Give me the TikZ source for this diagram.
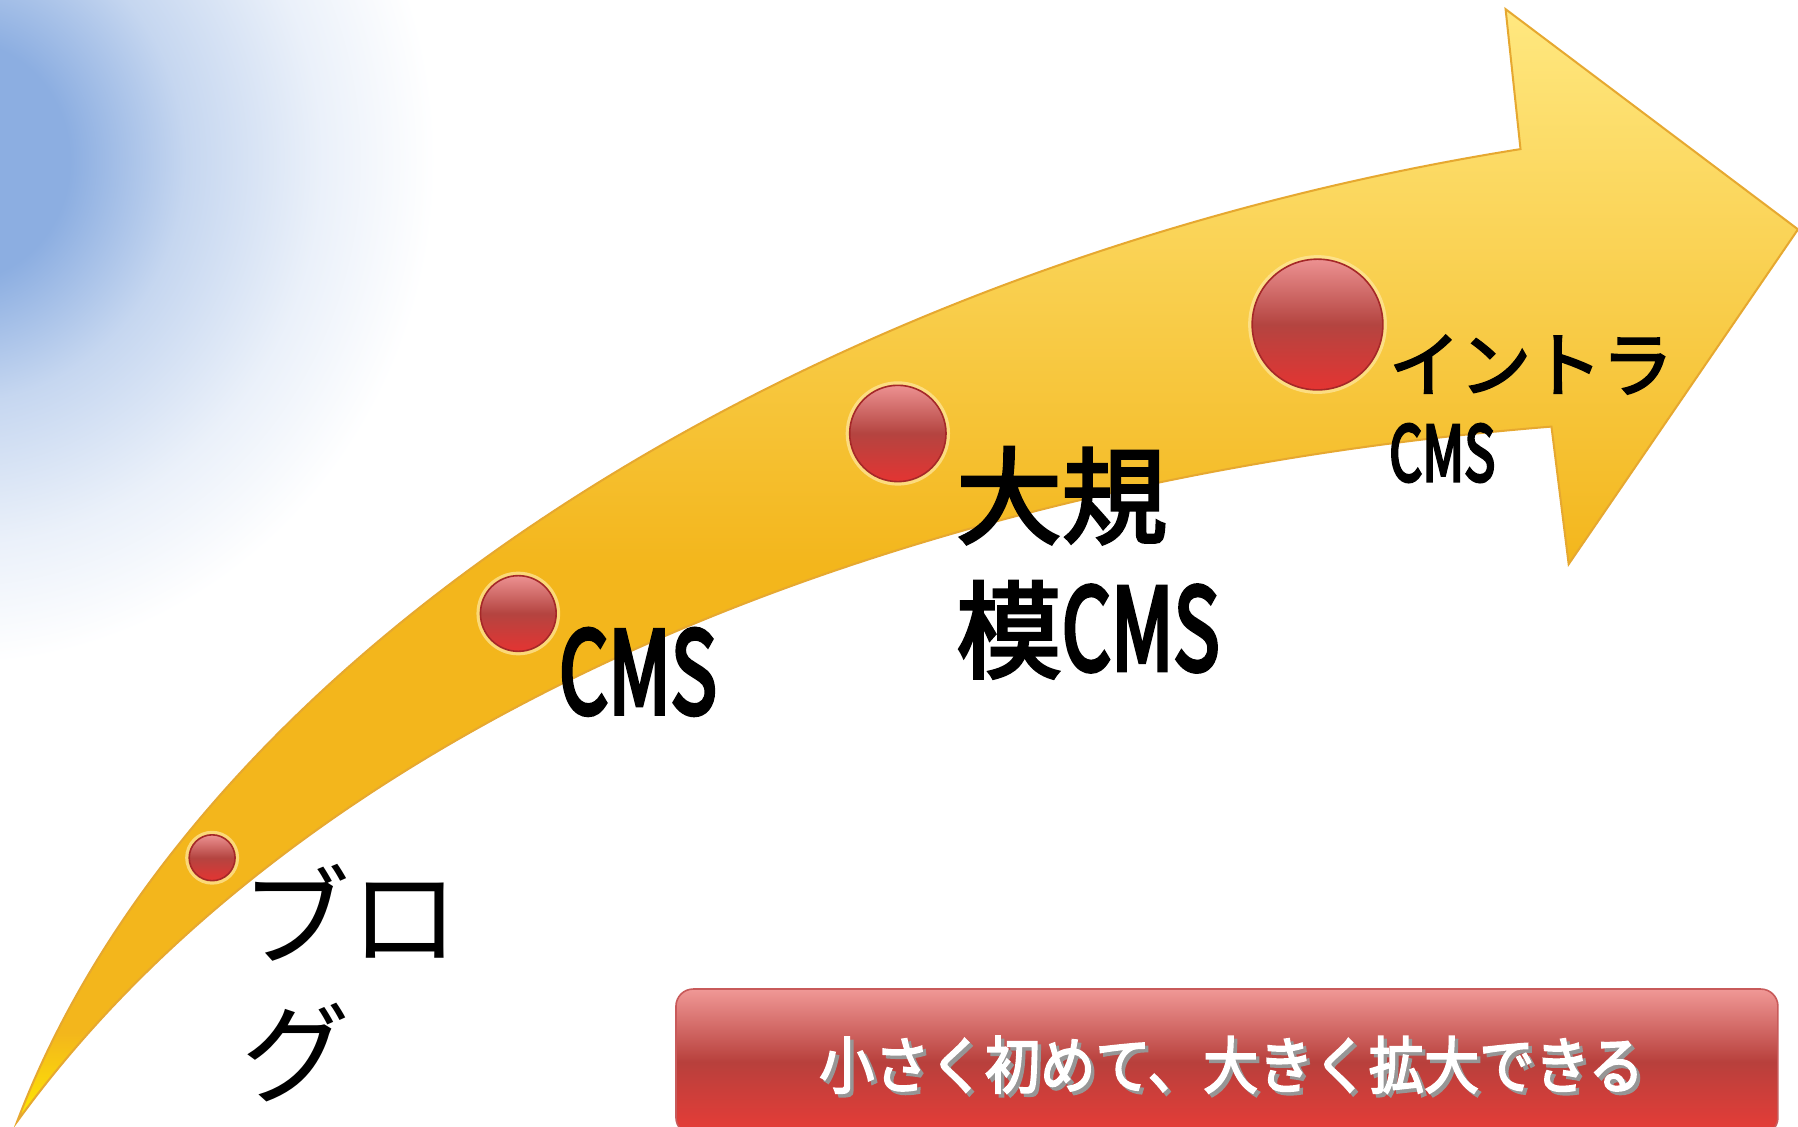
\documentclass[tikz,border=0pt]{standalone}
\usepackage{fontspec}
\usepackage{graphicx}
\newfontfamily\jpfont{Noto Sans CJK JP}
\newfontfamily\jpmed[FakeBold=3]{Noto Sans CJK JP}
\newfontfamily\jpbold[FakeBold=4.5]{Noto Sans CJK JP}
\usetikzlibrary{positioning}

\definecolor{skyblue}{RGB}{140,174,225}
\colorlet{skymid}{skyblue!50!white}
\colorlet{skylow}{skyblue!18!white}
\definecolor{headyellow}{RGB}{255,232,128}
\definecolor{bodyorange}{RGB}{243,182,28}
\definecolor{tailyellow}{RGB}{255,234,0}
\definecolor{arrowedge}{RGB}{230,168,48}
\definecolor{dottop}{RGB}{236,145,145}
\definecolor{dotmid}{RGB}{180,68,64}
\definecolor{dotbot}{RGB}{228,52,50}
\definecolor{dotedge}{RGB}{165,40,40}
\definecolor{glow}{RGB}{255,232,160}
\definecolor{btntop}{RGB}{240,152,150}
\definecolor{btnmid}{RGB}{184,64,60}
\definecolor{btnbot}{RGB}{232,60,55}
\definecolor{btnedge}{RGB}{200,90,90}
\definecolor{shadowgray}{RGB}{150,150,150}

\pgfdeclareradialshading{sky}{\pgfpointorigin}{color(0bp)=(skyblue); color(6bp)=(skyblue); color(12bp)=(skymid); color(19bp)=(skylow); color(25bp)=(white); color(50bp)=(white)}
\pgfdeclareverticalshading{arrowshade}{100bp}{color(0bp)=(tailyellow); color(25bp)=(tailyellow); color(29bp)=(bodyorange); color(50bp)=(bodyorange); color(75bp)=(headyellow); color(100bp)=(headyellow)}

% half width latin, as in the slide font
\newcommand\halfw[1]{{\jpbold\scalebox{0.73}[1.07]{#1}}}

\begin{document}
\begin{tikzpicture}[
  x=0.1mm, y=-0.1mm,
  every node/.style={font=\jpfont},
  dot/.style={circle, inner sep=0pt, draw=dotedge, line width=0.4pt,
    top color=dottop, bottom color=dotbot, middle color=dotmid,
    preaction={draw=glow, draw opacity=0.7, line width=0.7mm}},
  lbl/.style={inner sep=0pt, align=left},
  button/.style={draw=btnedge, rounded corners=1.5mm, inner sep=0pt,
    top color=btntop, bottom color=btnbot, middle color=btnmid,
    minimum width=96.1mm, minimum height=12.7mm},
  slogan/.style={inner sep=0pt, font=\jpmed\fontsize{15.4pt}{18pt}\selectfont}
]
  \fill[white] (0,0) rectangle (1568,982);
  \useasboundingbox (0,0) rectangle (1568,982);

  %--- sky
  \shade[shading=sky] (-40,140) ellipse (420 and 440);

  %--- big arrow
  \shadedraw[shading=arrowshade, draw=arrowedge, line width=0.5pt]
    (15,978) .. controls (170,570) and (700,230) .. (1326,130)
    -- (1313,8) -- (1568,200) -- (1368,492) -- (1353,372)
    .. controls (760,420) and (260,640) .. (15,978) -- cycle;

  %--- dots
  \node[dot, minimum size=4mm]    (blog)  at (185,748)  {};
  \node[dot, minimum size=6.6mm]  (cms)   at (452,535)  {};
  \node[dot, minimum size=8.4mm]  (large) at (783,378)  {};
  \node[dot, minimum size=11.4mm] (intra) at (1149,283) {};

  %--- labels
  \node[lbl, font=\jpfont\fontsize{27pt}{34pt}\selectfont,
        below right=-1.0mm and 1.0mm of blog] (blogtxt) {ブロ\\グ};
  \node[lbl, font=\jpmed\fontsize{26.2pt}{31pt}\selectfont,
        below right=-1.1mm and 1.1mm of cms] (cmstxt) {\halfw{CMS}};
  \node[lbl, font=\jpmed\fontsize{26.2pt}{33.3pt}\selectfont,
        below right=-1.9mm and 2.0mm of large] (largetxt) {大規\\模\halfw{CMS}};
  \node[lbl, font=\jpmed\fontsize{17.6pt}{22.3pt}\selectfont,
        below right=-3.2mm and 2.1mm of intra] (intratxt) {イントラ\\\halfw{CMS}};

  %--- button
  \node[button] (btn) at (1070,926) {};
  \node[slogan, text=shadowgray] (sloganshadow) at ([shift={(0.7mm,-0.55mm)}]btn.center)
    {\scalebox{0.89}[1]{小さく初めて、大きく拡大できる}};
  \node[slogan, text=white] (slogantxt) at ([shift={(0.4mm,-0.25mm)}]btn.center)
    {\scalebox{0.89}[1]{小さく初めて、大きく拡大できる}};
\end{tikzpicture}
\end{document}
